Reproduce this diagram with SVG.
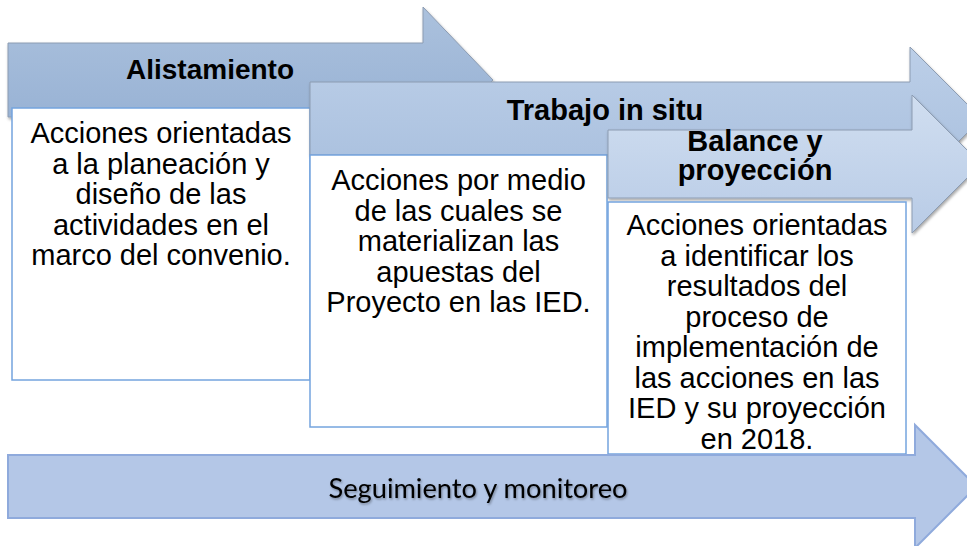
<svg xmlns="http://www.w3.org/2000/svg" width="967" height="546" viewBox="0 0 967 546">
  <defs>
    <linearGradient id="g1" x1="0" y1="0" x2="0" y2="1">
      <stop offset="0" stop-color="#abc1dd"/>
      <stop offset="1" stop-color="#93aed2"/>
    </linearGradient>
    <linearGradient id="g2" x1="0" y1="0" x2="0" y2="1">
      <stop offset="0" stop-color="#bccfe8"/>
      <stop offset="1" stop-color="#a7bedd"/>
    </linearGradient>
    <linearGradient id="g3" x1="0" y1="0" x2="0" y2="1">
      <stop offset="0" stop-color="#d0def0"/>
      <stop offset="1" stop-color="#b8cbe6"/>
    </linearGradient>
    <filter id="sh" x="-5%" y="-5%" width="115%" height="120%">
      <feDropShadow dx="1" dy="2" stdDeviation="1.5" flood-color="#000" flood-opacity="0.35"/>
    </filter>
    <filter id="tsh" x="-5%" y="-20%" width="110%" height="150%">
      <feDropShadow dx="1" dy="1.5" stdDeviation="1" flood-color="#000" flood-opacity="0.35"/>
    </filter>
  </defs>
  <style>
    .arrow { stroke: #8c9cb2; stroke-width: 1; filter: url(#sh); }
    .box { fill: #ffffff; stroke: #74a4de; stroke-width: 1.5; }
    .title { font-family: "Liberation Sans", Arial, sans-serif; font-weight: bold; font-size: 29px; fill: #000; text-anchor: middle; }
    .body { font-family: "Liberation Sans", Arial, sans-serif; font-size: 29px; fill: #000; text-anchor: middle; }
    .seg { font-family: Lato, "Open Sans", sans-serif; font-size: 26px; fill: #000; text-anchor: middle; filter: url(#tsh); }
  </style>

  <g id="alistamiento">
    <path class="arrow" fill="url(#g1)" d="M8,43 H423 V7 L493,80 L423,153 V117 H8 Z"/>
    <text class="title" x="210" y="79" style="font-size:28px">Alistamiento</text>
  </g>
  <g id="alistamiento-box">
    <rect class="box" x="12" y="108" width="298" height="272"/>
    <text class="body" x="161" y="143">Acciones orientadas</text>
    <text class="body" x="161" y="173.5">a la planeación y</text>
    <text class="body" x="161" y="204">diseño de las</text>
    <text class="body" x="161" y="234.5">actividades en el</text>
    <text class="body" x="161" y="265">marco del convenio.</text>
  </g>

  <g id="trabajo">
    <path class="arrow" fill="url(#g2)" d="M310,82 H910 V47 L981.5,118.5 L910,190 V155 H310 Z"/>
    <text class="title" x="605" y="120">Trabajo in situ</text>
  </g>
  <g id="trabajo-box">
    <rect class="box" x="310" y="155" width="297" height="272"/>
    <text class="body" x="458.5" y="190">Acciones por medio</text>
    <text class="body" x="458.5" y="220.5">de las cuales se</text>
    <text class="body" x="458.5" y="251">materializan las</text>
    <text class="body" x="458.5" y="281.5">apuestas del</text>
    <text class="body" x="458.5" y="312">Proyecto en las IED.</text>
  </g>

  <g id="balance">
    <path class="arrow" fill="url(#g3)" d="M608,130 H912 V95 L981,164 L912,233 V198 H608 Z"/>
    <text class="title" x="755" y="151">Balance y</text>
    <text class="title" x="755" y="180">proyección</text>
  </g>
  <g id="balance-box">
    <rect class="box" x="608" y="202" width="298" height="252"/>
    <text class="body" x="757" y="235">Acciones orientadas</text>
    <text class="body" x="757" y="265.5">a identificar los</text>
    <text class="body" x="757" y="296">resultados del</text>
    <text class="body" x="757" y="326.5">proceso de</text>
    <text class="body" x="757" y="357">implementación de</text>
    <text class="body" x="757" y="387.5">las acciones en las</text>
    <text class="body" x="757" y="418">IED y su proyección</text>
    <text class="body" x="757" y="448.5">en 2018.</text>
  </g>

  <g id="seguimiento">
    <path fill="#b4c7e7" stroke="#8faadc" stroke-width="2" d="M8,455 H915 V425 L976.5,486.5 L915,548 V518 H8 Z"/>
    <text class="seg" x="478" y="498" textLength="299" lengthAdjust="spacingAndGlyphs">Seguimiento y monitoreo</text>
  </g>

  <g id="connectors"></g>
</svg>
